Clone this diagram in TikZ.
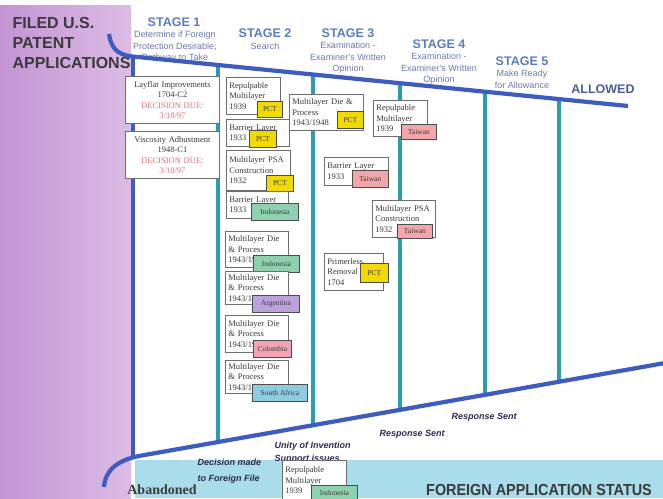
\documentclass[tikz,border=0pt]{standalone}
\usepackage{fontspec}
\setmainfont{Liberation Serif}
\setsansfont{Liberation Sans}
\usepackage{xcolor}
\usetikzlibrary{positioning}
\definecolor{lilacdeep}{HTML}{C394D4}
\definecolor{lilaclight}{HTML}{DCBCE5}
\definecolor{skyband}{HTML}{A9DDEB}
\definecolor{royal}{HTML}{3D5CC0}
\definecolor{tealline}{HTML}{2A9DB0}
\definecolor{stageblue}{HTML}{5A7CC6}
\definecolor{subblue}{HTML}{6A7AB2}
\definecolor{allowblue}{HTML}{4B5C9C}
\definecolor{ink}{HTML}{3A3A3A}
\definecolor{navyink}{HTML}{2B2B52}
\definecolor{duered}{HTML}{E0707C}
\definecolor{cardrule}{HTML}{6E6E6E}
\definecolor{pctyellow}{HTML}{F2DA00}
\definecolor{indgreen}{HTML}{8FD1AE}
\definecolor{argviolet}{HTML}{BBA2DE}
\definecolor{colpink}{HTML}{F3A3B4}
\definecolor{safblue}{HTML}{8DCBE2}
\definecolor{taipink}{HTML}{F3A6AA}
\tikzset{
  card/.style={draw=cardrule,fill=white,line width=0.8pt,anchor=north west,
               align=left,inner sep=3pt,text=ink,
               font=\fontsize{8.5}{10.5}\selectfont},
  deccard/.style={card,align=center},
  tag/.style={draw=cardrule!70!black,line width=0.8pt,anchor=north west,
              inner sep=0pt,text=ink,font=\fontsize{7.5}{9}\selectfont},
  stagehd/.style={font=\sffamily\bfseries\fontsize{12.5}{14}\selectfont,
                  text=stageblue},
  stagesub/.style={font=\sffamily\fontsize{9}{11.5}\selectfont,
                   text=subblue,align=center},
  note/.style={font=\sffamily\bfseries\itshape\fontsize{9}{15}\selectfont,
               text=navyink,align=left},
  blueline/.style={draw=royal,line width=4.2pt},
  tealrule/.style={draw=tealline,line width=3.2pt}
}

\begin{document}
\begin{tikzpicture}[x=1pt,y=-1pt]
  \useasboundingbox (0,0) rectangle (663,498);
  \clip (0,0) rectangle (663,498);
  % bands
  \fill[left color=lilacdeep,right color=lilaclight] (0,5) rectangle (131,498);
  \fill[skyband] (135,460) rectangle (663,498);

  \node[anchor=west,align=left,text=ink,
        font=\sffamily\bfseries\fontsize{16}{20}\selectfont] (filed) at (9,43)
    {FILED U.S.\\PATENT\\APPLICATIONS};

  % stage headings
  \node[stagehd] (st1) at (174,22) {STAGE 1};
  \node[stagesub] (st1t) at (175,47) {Determine if Foreign\\Protection Desirable;\\Pathway to Take};
  \node[stagehd] (st2) at (265,33) {STAGE 2};
  \node[stagesub] (st2t) at (265,46) {Search};
  \node[stagehd] (st3) at (348,33) {STAGE 3};
  \node[stagesub] (st3t) at (348,58) {Examination -\\Examiner's Written\\Opinion};
  \node[stagehd] (st4) at (439,44) {STAGE 4};
  \node[stagesub] (st4t) at (439,69) {Examination -\\Examiner's Written\\Opinion};
  \node[stagehd] (st5) at (522,61) {STAGE 5};
  \node[stagesub] (st5t) at (522,79.5) {Make Ready\\for Allowance};
  \node[stagehd,text=allowblue] (allowed) at (603,89) {ALLOWED};

  % stage dividers
  \draw[tealrule] (218,66) -- (218,442);
  \draw[tealrule] (313,75) -- (313,425);
  \draw[tealrule] (400,83) -- (400,410);
  \draw[tealrule] (485,92) -- (485,395);
  \draw[tealrule] (559,99) -- (559,382);

  % funnel
  \draw[blueline] (109,34) .. controls (112,52) and (120,56) .. (140,57.2) -- (628,106);
  \draw[blueline] (133,57) -- (133,457);
  \draw[blueline] (665,363) -- (140,455.8) .. controls (118,460) and (105,470) .. (104,487);

  % stage 1
  \node[deccard,text width=88pt,minimum height=47pt] (layflat) at (125,76)
    {Layflat Improvements\\1704-C2\\\textcolor{duered}{DECISION DUE:}\\\textcolor{duered}{3/18/97}};
  \node[deccard,text width=88pt,minimum height=47pt] (viscos) at (125,131)
    {Viscosity Adhustment\\1948-C1\\\textcolor{duered}{DECISION DUE:}\\\textcolor{duered}{3/18/97}};

  % stage 2
  \node[card,text width=48pt,minimum height=37pt] (rpa) at (226,77) {Repulpable\\Multilayer\\1939};
  \node[tag,fill=pctyellow,minimum width=25pt,minimum height=16pt] (rpapct) at (257,101) {PCT};
  \node[card,text width=57pt,minimum height=27pt] (bla) at (226,119) {Barrier Layer\\1933};
  \node[tag,fill=pctyellow,minimum width=27pt,minimum height=17pt] (blapct) at (249,130) {PCT};
  \node[card,text width=58pt,minimum height=40pt] (psaa) at (226,150) {Multilayer PSA\\Construction\\1932};
  \node[tag,fill=pctyellow,minimum width=27pt,minimum height=16pt] (psaapct) at (266,175) {PCT};
  \node[card,text width=56pt,minimum height=27pt] (blb) at (226,191) {Barrier Layer\\1933};
  \node[tag,fill=indgreen,minimum width=47pt,minimum height=17pt] (blbind) at (251,203) {Indonesia};
  \node[card,text width=57pt,minimum height=36pt] (mdpa) at (225,231) {Multilayer Die\\\& Process\\1943/1948};
  \node[tag,fill=indgreen,minimum width=46pt,minimum height=17pt] (mdpaind) at (253,255) {Indonesia};
  \node[card,text width=57pt,minimum height=31pt] (mdpb) at (225,271) {Multilayer Die\\\& Process\\1943/1948};
  \node[tag,fill=argviolet,minimum width=47pt,minimum height=17pt] (mdpbarg) at (252,295) {Argentina};
  \node[card,text width=57pt,minimum height=37pt] (mdpc) at (225,315) {Multilayer Die\\\& Process\\1943/1948};
  \node[tag,fill=colpink,minimum width=38pt,minimum height=17pt] (mdpccol) at (253,340) {Colombia};
  \node[card,text width=57pt,minimum height=33pt] (mdpd) at (225,360) {Multilayer Die\\\& Process\\1943/1948};
  \node[tag,fill=safblue,minimum width=55pt,minimum height=17pt] (mdpdsaf) at (252,384) {South Africa};

  % stage 3
  \node[card,text width=68pt,minimum height=36pt] (mdpe) at (289,94) {Multilayer Die \&\\Process\\1943/1948};
  \node[tag,fill=pctyellow,minimum width=26pt,minimum height=17pt] (mdpepct) at (337,111) {PCT};
  \node[card,text width=58pt,minimum height=28pt] (blc) at (324,157) {Barrier Layer\\1933};
  \node[tag,fill=taipink,minimum width=36pt,minimum height=17pt] (blctai) at (352,170) {Taiwan};
  \node[card,text width=53pt,minimum height=37pt] (prim) at (324,253) {Primerless\\Removal\\1704};
  \node[tag,fill=pctyellow,minimum width=28pt,minimum height=19pt] (primpct) at (360,263) {PCT};

  % stage 4
  \node[card,text width=48pt,minimum height=36pt] (rpb) at (373,100) {Repulpable\\Multilayer\\1939};
  \node[tag,fill=taipink,minimum width=35pt,minimum height=15pt] (rpbtai) at (401,124) {Taiwan};
  \node[card,text width=57pt,minimum height=37pt] (psab) at (372,200) {Multilayer PSA\\Construction\\1932};
  \node[tag,fill=taipink,minimum width=35pt,minimum height=14pt] (psabtai) at (397,224) {Taiwan};

  % lower edge
  \node[note,anchor=west] (respa) at (376,434) {Response Sent};
  \node[note,anchor=west] (respb) at (448,417) {Response Sent};
  \node[note,anchor=west,font=\sffamily\bfseries\itshape\fontsize{9}{13}\selectfont] (unity) at (271,452.5)
    {Unity of Invention\\Support issues};
  \node[note,anchor=west,font=\sffamily\bfseries\itshape\fontsize{9}{16}\selectfont] (decide) at (194,471)
    {Decision made\\to Foreign File};
  \node[card,text width=58pt,minimum height=40pt] (rpc) at (282,460) {Repulpable\\Multilayer\\1939};
  \node[tag,fill=indgreen,minimum width=46pt,minimum height=15pt] (rpcind) at (311,485) {Indonesia};
  \node[text=ink,font=\bfseries\fontsize{14}{16}\selectfont] (aband) at (162,490) {Abandoned};
  \node[text=ink,font=\sffamily\bfseries\fontsize{16}{18}\selectfont,xscale=0.9] (foreign) at (539,490)
    {FOREIGN APPLICATION STATUS};
\end{tikzpicture}
\end{document}
